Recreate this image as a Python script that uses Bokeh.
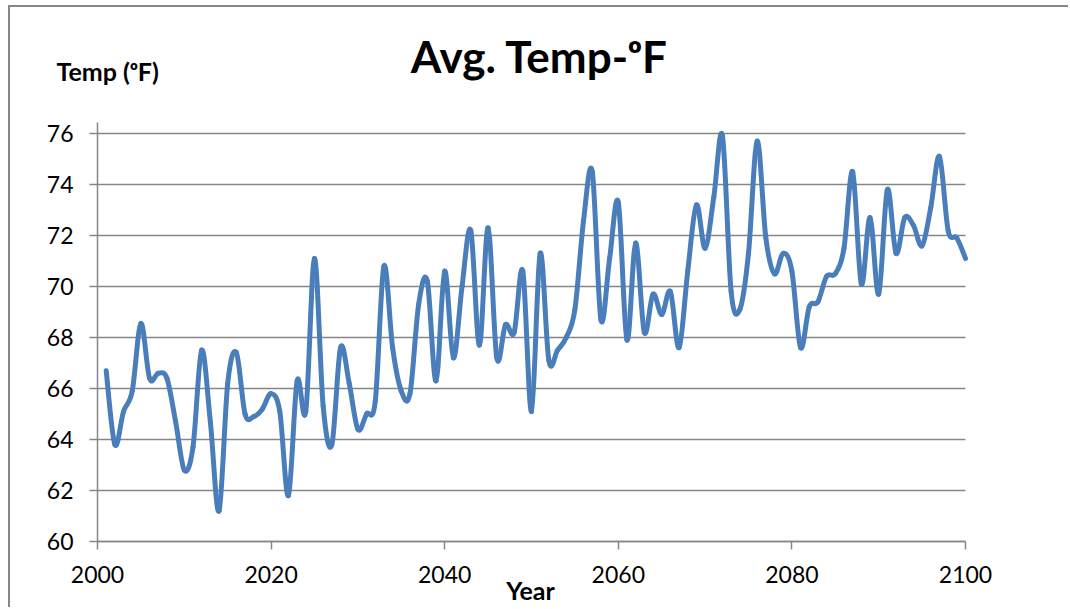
from bokeh.plotting import figure
from bokeh.models import Range1d, FixedTicker, Label, ColumnDataSource
from bokeh.embed import file_html
from bokeh.resources import INLINE

# Average yearly temperature (degrees F), 2001-2100
years = list(range(2001, 2101))
temps = [
    66.7, 63.8, 65.1, 65.9, 68.55, 66.4, 66.6, 66.4, 64.7, 62.8,
    63.7, 67.5, 64.7, 61.2, 66.2, 67.4, 65.0, 64.9, 65.2, 65.8,
    65.1, 61.8, 66.3, 65.1, 71.1, 65.3, 63.8, 67.6, 66.2, 64.4,
    65.0, 65.5, 70.8, 67.6, 65.9, 65.8, 69.3, 70.2, 66.3, 70.6,
    67.2, 70.0, 72.2, 67.7, 72.3, 67.2, 68.5, 68.2, 70.6, 65.1,
    71.3, 67.1, 67.5, 68.0, 69.1, 72.6, 74.5, 68.7, 71.1, 73.3,
    67.9, 71.7, 68.2, 69.7, 68.9, 69.8, 67.6, 70.6, 73.2, 71.5,
    73.5, 75.9, 69.8, 69.1, 71.3, 75.7, 71.9, 70.5, 71.3, 70.6,
    67.6, 69.2, 69.4, 70.4, 70.5, 71.5, 74.5, 70.1, 72.7, 69.7,
    73.8, 71.3, 72.7, 72.4, 71.6, 73.1, 75.1, 72.2, 71.9, 71.1,
]

x_ticks = [2000, 2020, 2040, 2060, 2080, 2100]
y_ticks = [60, 62, 64, 66, 68, 70, 72, 74, 76]

title_text = "Avg. Temp-\u1d52F"
y_title = "Temp (\u1d52F)"
x_title = "Year"

GREY = "#868686"
BLUE = "#4A7EBB"
FONT = "Lato"

# Pixel geometry of the chart area inside the canvas
W, H = 1060, 602
PLOT_L, PLOT_R, PLOT_T, PLOT_B = 87, 955, 115, 534   # canvas pixels
X0, X1 = x_ticks[0], x_ticks[-1]
Y0, Y1 = y_ticks[0], y_ticks[-1]
px_x = (PLOT_R - PLOT_L) / (X1 - X0)
px_y = (PLOT_B - 126) / (Y1 - Y0)          # 76 gridline sits at canvas y=126
y_axis_top = Y1 + (126 - PLOT_T) / px_y

x_range = Range1d(X0 - PLOT_L / px_x, X1 + (W - PLOT_R) / px_x)
y_range = Range1d(Y0 - (H - PLOT_B) / px_y, Y0 + PLOT_B / px_y)

p = figure(
    width=W, height=H,
    output_backend="svg", toolbar_location=None,
    x_range=x_range, y_range=y_range,
    min_border=0, min_border_left=0, min_border_right=0,
    min_border_top=0, min_border_bottom=0,
    background_fill_color="white", border_fill_color="white",
    outline_line_color=None,
    styles={
        "margin-left": "8px", "margin-top": "5px",
        "border-left": "2px solid #878787",
        "border-top": "2px solid #878787",
    },
)
p.xgrid.visible = False
p.ygrid.visible = False

# Horizontal gridlines across the year span
p.segment(x0=[X0] * len(y_ticks), x1=[X1] * len(y_ticks),
          y0=y_ticks, y1=y_ticks, line_color=GREY, line_width=1.5)

# Smoothed line: each segment is a cubic Bezier with Catmull-Rom style handles
n = len(years)
x0, y0, x1, y1, cx0, cy0, cx1, cy1 = [], [], [], [], [], [], [], []
for i in range(n - 1):
    ip = max(i - 1, 0)
    inn = min(i + 2, n - 1)
    x0.append(years[i]); y0.append(temps[i])
    x1.append(years[i + 1]); y1.append(temps[i + 1])
    cx0.append(years[i] + (years[i + 1] - years[ip]) / 6)
    cy0.append(temps[i] + (temps[i + 1] - temps[ip]) / 6)
    cx1.append(years[i + 1] - (years[inn] - years[i]) / 6)
    cy1.append(temps[i + 1] - (temps[inn] - temps[i]) / 6)

src = ColumnDataSource(dict(x0=x0, y0=y0, x1=x1, y1=y1,
                            cx0=cx0, cy0=cy0, cx1=cx1, cy1=cy1))
p.bezier(x0="x0", y0="y0", x1="x1", y1="y1", cx0="cx0", cy0="cy0",
         cx1="cx1", cy1="cy1", source=src, line_color=BLUE,
         line_width=5, line_cap="round")

# Axes, pinned to the corner of the year/temperature span
for ax in (p.xaxis[0], p.yaxis[0]):
    ax.axis_line_color = GREY
    ax.axis_line_width = 1.5
    ax.major_tick_line_color = GREY
    ax.major_tick_line_width = 1.5
    ax.major_tick_in = 0
    ax.major_tick_out = 8
    ax.minor_tick_line_color = None
    ax.major_label_text_font = FONT
    ax.major_label_text_font_size = "23px"
    ax.major_label_text_color = "black"

p.xaxis.ticker = FixedTicker(ticks=x_ticks)
p.yaxis.ticker = FixedTicker(ticks=y_ticks)
p.xaxis.fixed_location = Y0
p.yaxis.fixed_location = X0
p.xaxis.bounds = (X0, X1)
p.yaxis.bounds = (Y0, y_axis_top)
p.xaxis.major_label_standoff = 16
p.yaxis.major_label_standoff = 16

# Titles
def px_to_x(cx):
    return X0 + (cx - PLOT_L) / px_x

def px_to_y(cy):
    return Y0 + (PLOT_B - cy) / px_y

p.add_layout(Label(x=px_to_x(529), y=px_to_y(48), text=title_text,
                   text_font=FONT, text_font_style="bold",
                   text_font_size="44px", text_align="center",
                   text_baseline="alphabetic", text_color="black"))
p.add_layout(Label(x=px_to_x(46), y=px_to_y(63), text=y_title,
                   text_font=FONT, text_font_style="bold",
                   text_font_size="25px", text_align="left",
                   text_baseline="alphabetic", text_color="black"))
p.add_layout(Label(x=px_to_x(520), y=px_to_y(582), text=x_title,
                   text_font=FONT, text_font_style="bold",
                   text_font_size="25px", text_align="center",
                   text_baseline="alphabetic", text_color="black"))

open("out.html", "w").write(file_html(p, INLINE))
